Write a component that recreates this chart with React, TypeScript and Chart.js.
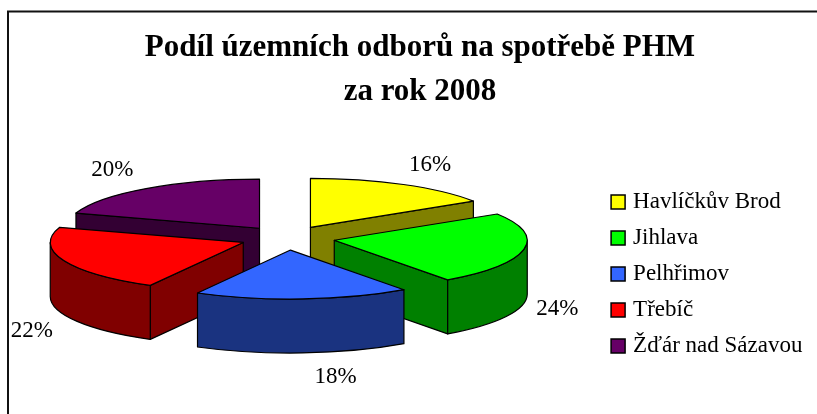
import { useEffect, useRef } from "react";
import { Chart, registerables } from "chart.js";

Chart.register(...registerables);

const categories = ["Havlíčkův Brod", "Jihlava", "Pelhřimov", "Třebíč", "Žďár nad Sázavou"];
const shares = [16, 24, 18, 22, 20];
const topColors = ["#FFFF00", "#00FF00", "#3366FF", "#FF0000", "#660066"];
const sideColors = ["#808000", "#008000", "#1A3380", "#800000", "#330033"];
const titleLines = ["Podíl územních odborů na spotřebě PHM", "za rok 2008"];

const SERIF = "'Liberation Serif', 'Times New Roman', serif";
const PIE = { cx: 287.5, cy: 238, rx: 193, ry: 49, explode: 47.6, depth: 54 };
const labelNudgeX = [-3, -1, 1, 2, -3];
const labelNudgeY = [2, 1, 0, 7, 1];

const pie3d = {
  id: "pie3d",
  beforeDraw(chart: any) {
    const { ctx, width, height } = chart;
    ctx.save();
    ctx.fillStyle = "#fff";
    ctx.fillRect(0, 0, width, height);
    ctx.strokeStyle = "#111";
    ctx.lineWidth = 2;
    ctx.beginPath();
    ctx.moveTo(8, height);
    ctx.lineTo(8, 11.5);
    ctx.lineTo(width, 11.5);
    ctx.stroke();
    ctx.restore();
  },
  beforeDatasetsDraw(chart: any) {
    const { ctx } = chart;
    const arcs: any[] = chart.getDatasetMeta(0).data;
    const { cx, cy, rx, ry, explode, depth } = PIE;
    const order = arcs
      .map((arc, i) => ({ arc, i, mid: (arc.startAngle + arc.endAngle) / 2 }))
      .sort((a, b) => Math.sin(a.mid) - Math.sin(b.mid));

    for (const { arc, i, mid } of order) {
      const a0 = arc.startAngle;
      const a1 = arc.endAngle;
      const qx = cx + Math.cos(mid) * explode;
      const qy = cy + (Math.sin(mid) * explode * ry) / rx;
      const px = (t: number) => qx + Math.cos(t) * rx;
      const py = (t: number) => qy + Math.sin(t) * ry;

      ctx.save();
      ctx.lineWidth = 1.2;
      ctx.strokeStyle = "#000";
      ctx.lineJoin = "round";
      ctx.fillStyle = sideColors[i];

      const wall = (t: number) => {
        ctx.beginPath();
        ctx.moveTo(qx, qy);
        ctx.lineTo(px(t), py(t));
        ctx.lineTo(px(t), py(t) + depth);
        ctx.lineTo(qx, qy + depth);
        ctx.closePath();
        ctx.fill();
        ctx.stroke();
      };
      if (Math.cos(a0) < -1e-6) wall(a0);
      if (Math.cos(a1) > 1e-6) wall(a1);

      const from = Math.max(a0, 0);
      const to = Math.min(a1, Math.PI);
      if (to > from) {
        ctx.beginPath();
        ctx.ellipse(qx, qy, rx, ry, 0, from, to);
        ctx.ellipse(qx, qy + depth, rx, ry, 0, to, from, true);
        ctx.closePath();
        ctx.fill();
        ctx.stroke();
      }

      ctx.save();
      ctx.translate(qx, qy);
      ctx.scale(rx / arc.outerRadius, ry / arc.outerRadius);
      ctx.translate(-arc.x, -arc.y);
      arc.draw(ctx);
      ctx.restore();

      ctx.beginPath();
      ctx.moveTo(qx, qy);
      ctx.ellipse(qx, qy, rx, ry, 0, a0, a1);
      ctx.closePath();
      ctx.stroke();
      ctx.restore();
    }

    ctx.save();
    ctx.fillStyle = "#000";
    ctx.font = `23px ${SERIF}`;
    ctx.textAlign = "center";
    ctx.textBaseline = "middle";
    arcs.forEach((arc, i) => {
      const mid = (arc.startAngle + arc.endAngle) / 2;
      const c = Math.cos(mid);
      const s = Math.sin(mid);
      const qx = cx + c * explode;
      const qy = cy + (s * explode * ry) / rx;
      const x = qx + c * rx * 1.05 + (Math.abs(c) > 0.2 ? Math.sign(c) * 25 : 44 - c * rx * 1.05) + labelNudgeX[i];
      const y = qy + s * ry * 1.5 + (s > 0 ? depth : 0) + labelNudgeY[i];
      ctx.fillText(`${shares[i]}%`, x, y);
    });
    ctx.restore();
    return false;
  },
};

export default function App() {
  const ref = useRef<HTMLCanvasElement>(null);
  useEffect(() => {
    const chart = new Chart(ref.current!, {
      type: "pie",
      data: {
        labels: categories,
        datasets: [{ data: shares, backgroundColor: topColors, borderWidth: 0 }],
      },
      options: {
        animation: false,
        responsive: false,
        layout: { padding: { left: 27.5, right: 4.5, top: 0, bottom: 0 } },
        plugins: {
          tooltip: { enabled: false },
          title: {
            display: true,
            text: titleLines,
            color: "#000",
            font: { family: SERIF, size: 31, weight: "bold", lineHeight: 1.42 },
            padding: { top: 26, bottom: 20 },
          },
          legend: {
            position: "right",
            fullSize: false,
            labels: {
              color: "#000",
              font: { family: SERIF, size: 23 },
              usePointStyle: true,
              boxWidth: 7,
              boxHeight: 14,
              padding: 13,
              generateLabels: () =>
                categories.map((text, index) => ({
                  text,
                  index,
                  fillStyle: topColors[index],
                  strokeStyle: "#000",
                  lineWidth: 1.5,
                  hidden: false,
                  pointStyle: "rect",
                })),
            },
          },
        },
      },
      plugins: [pie3d],
    } as any);
    return () => chart.destroy();
  }, []);
  return (
    <div style={{ position: "absolute", left: 0, top: 0, width: 817, height: 414, overflow: "hidden" }}>
      <canvas ref={ref} width={817} height={414} style={{ display: "block" }} />
    </div>
  );
}
